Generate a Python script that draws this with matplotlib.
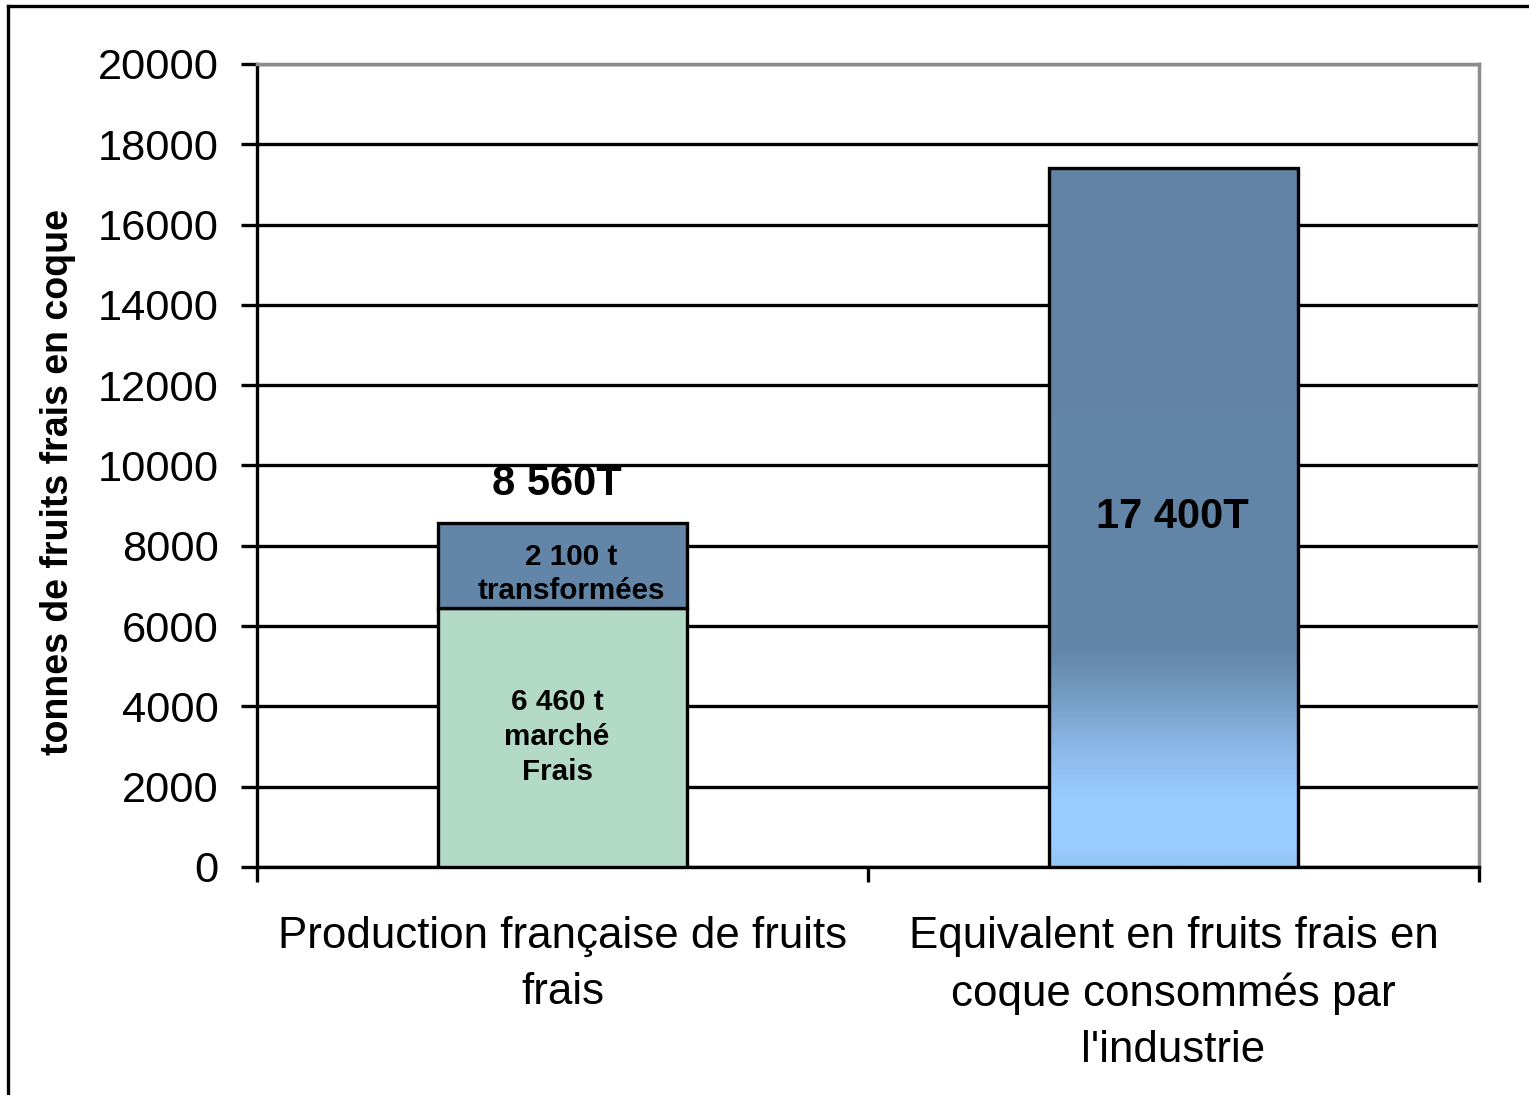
import numpy as np
import matplotlib
matplotlib.use("Agg")
import matplotlib.pyplot as plt
from matplotlib.colors import LinearSegmentedColormap
from matplotlib.lines import Line2D

# ---- data ----
categories = ["Production française de fruits\nfrais",
              "Equivalent en fruits frais en\ncoque consommés par\nl'industrie"]
marche_frais = [6460, 0]
transformees = [2100, 0]
industrie = [0, 17400]
total_labels = ["8 560T", "17 400T"]
seg_label_frais = "6 460 t\nmarché\nFrais"
seg_label_transf = "2 100 t\ntransformées"
yticks = list(range(0, 20001, 2000))
ylabel = "tonnes de fruits frais en coque"

plt.rcParams['font.family'] = ['Liberation Sans', 'DejaVu Sans']

W, H = 1529, 1095
fig = plt.figure(figsize=(W / 100, H / 100), dpi=100)
ax = fig.add_axes([257 / W, 1 - 867 / H, (1479 - 257) / W, (867 - 64) / H])

x = np.arange(len(categories))
bw = 0.4075
lw = 2.4
green = "#B3D9C7"
steel = "#6385A8"
light = "#99CCFF"

# grid
ax.set_axisbelow(True)
ax.yaxis.grid(True, color="black", linewidth=lw)

# stacked bar 1
ax.bar(x[0], marche_frais[0], width=bw, color=green, edgecolor="black", linewidth=lw, zorder=3)
ax.bar(x[0], transformees[0], bottom=marche_frais[0], width=bw, color=steel,
       edgecolor="black", linewidth=lw, zorder=3)

# gradient bar 2
b2 = ax.bar(x[1], industrie[1], width=bw, color="none", edgecolor="black", linewidth=lw, zorder=4)[0]
cmap = LinearSegmentedColormap.from_list(
    "grad", [(0.0, "#94C6F4"), (0.03, light), (0.096, light), (0.17, "#8AB8E6"),
             (0.23, "#77A1C9"), (0.31, steel), (1.0, "#6283A6")])
grad = np.linspace(0, 1, 400).reshape(-1, 1)
im = ax.imshow(grad, extent=[x[1] - bw / 2, x[1] + bw / 2, 0, industrie[1]],
               origin="lower", aspect="auto", cmap=cmap, zorder=3)
im.set_clip_path(b2)

ax.set_xlim(-0.5, 1.5)
ax.set_ylim(0, 20000)

# ticks
ax.set_yticks(yticks)
ax.set_yticklabels([str(v) for v in yticks], fontsize=31.2)
ax.tick_params(axis="y", length=11.5, width=lw, pad=16, color="black")
ax.set_xticks([-0.5, 0.5, 1.5])
ax.set_xticklabels(["", "", ""])
ax.tick_params(axis="x", which="major", length=11, width=lw, color="black")
ax.set_xticks(x, minor=True)
ax.set_xticklabels(categories, minor=True, fontsize=31.6, linespacing=1.47)
ax.tick_params(axis="x", which="minor", length=0, pad=35)

# spines
for s in ["left", "bottom"]:
    ax.spines[s].set_color("black")
    ax.spines[s].set_linewidth(lw)
for s in ["top", "right"]:
    ax.spines[s].set_color("#8C8C8C")
    ax.spines[s].set_linewidth(2.5)

# y label
ax.set_ylabel(ylabel, fontsize=27, fontweight="bold")
ax.yaxis.set_label_coords(-0.1628, 0.4795)
ax.yaxis.label.set_va("center")

# data labels
ax.text(x[0] - 0.009, 9540, total_labels[0], ha="center", va="center",
        fontsize=30, fontweight="bold", zorder=6)
ax.text(x[1] - 0.002, 8720, total_labels[1], ha="center", va="center",
        fontsize=30, fontweight="bold", zorder=6)
ax.text(x[0] + 0.014, 7300, seg_label_transf, ha="center", va="center",
        fontsize=21.3, fontweight="bold", linespacing=1.3, zorder=6)
ax.text(x[0] - 0.009, 3240, seg_label_frais, ha="center", va="center",
        fontsize=21.3, fontweight="bold", linespacing=1.3, zorder=6)

# outer figure border (top and left visible)
fig.add_artist(Line2D([8 / W, 1.0], [1 - 6 / H, 1 - 6 / H], transform=fig.transFigure,
                      color="black", linewidth=2.4))
fig.add_artist(Line2D([8 / W, 8 / W], [0.0, 1 - 6 / H], transform=fig.transFigure,
                      color="black", linewidth=2.4))

fig.savefig("out.png", dpi=100)
